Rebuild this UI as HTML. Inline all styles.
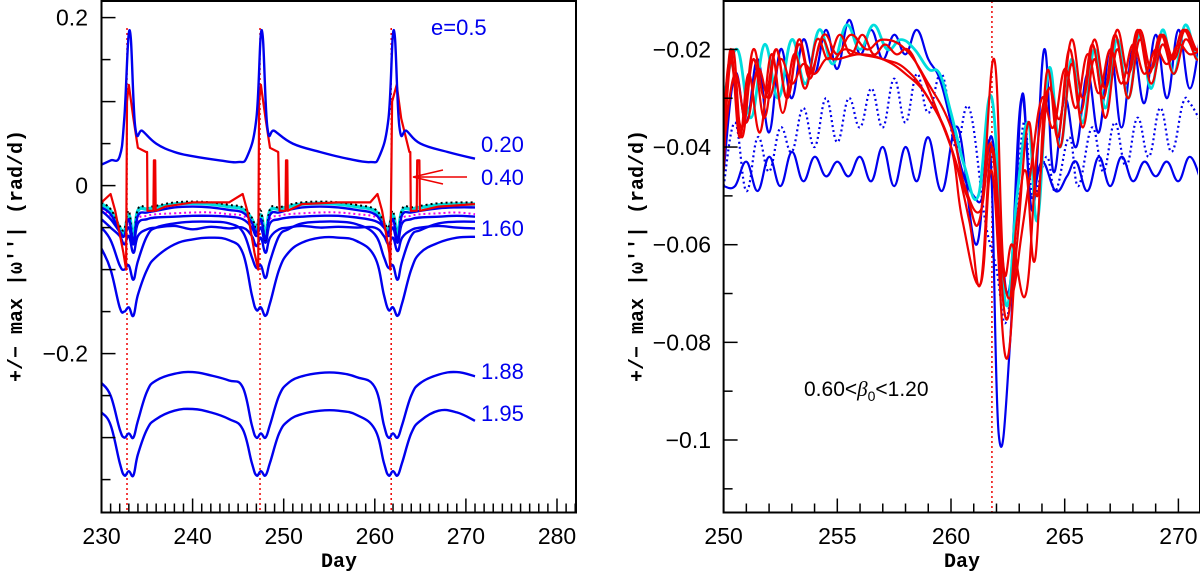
<!DOCTYPE html>
<html><head><meta charset="utf-8"><title>omega chart</title>
<style>
html,body{margin:0;padding:0;background:#fff;}
svg{display:block;font-family:"Liberation Sans",sans-serif;}
.tl{font-size:23px;fill:#000;}
.mono{font-family:"Liberation Mono",monospace;font-weight:bold;font-size:20px;fill:#000;}
.lab{font-size:22px;fill:#0000ee;}
</style></head>
<body>
<svg id="chart" width="1200" height="574" viewBox="0 0 1200 574" xmlns="http://www.w3.org/2000/svg">
<g id="left"></g>
<g id="right"></g>
</svg>
<script>
// ---------- LEFT PANEL DATA ----------
const leftXTicks = [230,240,250,260,270,280];
const leftYTicks = [0.2,0,-0.2];
const leftEvents = [232.8,247.4,261.8];
const D = [230,231,232,232.5,233,233.5,234,235,236,238,240,242,244,245.5,246.5,247,247.5,248,248.5,249.5,250.5,252,254,256,258,260,261,261.5,262,262.5,263,264,265,267,269,271];
const e195 = [-0.27,-0.285,-0.33,-0.345,-0.34,-0.345,-0.32,-0.29,-0.278,-0.268,-0.266,-0.27,-0.278,-0.29,-0.33,-0.345,-0.34,-0.345,-0.33,-0.295,-0.28,-0.272,-0.268,-0.268,-0.273,-0.29,-0.33,-0.345,-0.34,-0.345,-0.33,-0.295,-0.28,-0.268,-0.27,-0.28];
const e188 = [-0.235,-0.25,-0.29,-0.3,-0.295,-0.3,-0.28,-0.245,-0.232,-0.224,-0.222,-0.226,-0.232,-0.24,-0.285,-0.3,-0.295,-0.3,-0.285,-0.25,-0.235,-0.227,-0.223,-0.223,-0.228,-0.24,-0.285,-0.3,-0.295,-0.3,-0.285,-0.25,-0.235,-0.225,-0.222,-0.227];
const e16min = [-0.075,-0.1,-0.145,-0.15,-0.145,-0.155,-0.13,-0.1,-0.085,-0.07,-0.064,-0.062,-0.065,-0.08,-0.13,-0.148,-0.145,-0.155,-0.14,-0.1,-0.08,-0.068,-0.062,-0.062,-0.066,-0.085,-0.13,-0.148,-0.145,-0.155,-0.14,-0.1,-0.08,-0.068,-0.062,-0.061];
const e11min = [-0.05,-0.065,-0.095,-0.1,-0.095,-0.112,-0.09,-0.06,-0.05,-0.045,-0.043,-0.043,-0.045,-0.055,-0.085,-0.098,-0.095,-0.11,-0.09,-0.06,-0.052,-0.045,-0.043,-0.043,-0.046,-0.058,-0.085,-0.098,-0.095,-0.112,-0.09,-0.06,-0.053,-0.045,-0.043,-0.043];
const e160 = [-0.04,-0.05,-0.06,-0.07,-0.06,-0.08,-0.06,-0.052,-0.05,-0.048,-0.052,-0.049,-0.051,-0.05,-0.06,-0.072,-0.062,-0.08,-0.062,-0.052,-0.05,-0.048,-0.05,-0.049,-0.05,-0.05,-0.06,-0.07,-0.062,-0.078,-0.062,-0.053,-0.05,-0.048,-0.05,-0.051];
const eB40 = [-0.03,-0.04,-0.055,-0.06,-0.05,-0.07,-0.045,-0.04,-0.038,-0.037,-0.036,-0.036,-0.037,-0.04,-0.05,-0.06,-0.05,-0.068,-0.045,-0.04,-0.038,-0.037,-0.036,-0.036,-0.038,-0.042,-0.05,-0.06,-0.05,-0.068,-0.045,-0.04,-0.038,-0.037,-0.036,-0.037];
const eMag = [-0.028,-0.036,-0.05,-0.055,-0.045,-0.062,-0.04,-0.036,-0.034,-0.033,-0.032,-0.032,-0.034,-0.036,-0.045,-0.055,-0.045,-0.062,-0.04,-0.036,-0.034,-0.033,-0.032,-0.032,-0.034,-0.037,-0.046,-0.055,-0.045,-0.062,-0.04,-0.036,-0.034,-0.033,-0.032,-0.034];
const eCyan = [-0.022,-0.03,-0.05,-0.055,-0.035,-0.06,-0.03,-0.028,-0.026,-0.022,-0.021,-0.022,-0.025,-0.028,-0.04,-0.052,-0.035,-0.058,-0.03,-0.028,-0.025,-0.022,-0.021,-0.022,-0.025,-0.03,-0.045,-0.052,-0.035,-0.058,-0.03,-0.028,-0.026,-0.023,-0.022,-0.022];
const eBlk = [-0.02,-0.028,-0.048,-0.052,-0.03,-0.065,-0.028,-0.026,-0.024,-0.02,-0.019,-0.02,-0.023,-0.026,-0.038,-0.05,-0.03,-0.065,-0.028,-0.026,-0.023,-0.02,-0.019,-0.02,-0.023,-0.028,-0.043,-0.05,-0.03,-0.065,-0.028,-0.026,-0.024,-0.021,-0.02,-0.02];
const eBlue2 = [-0.026,-0.034,-0.054,-0.06,-0.04,-0.066,-0.036,-0.032,-0.03,-0.026,-0.025,-0.026,-0.029,-0.032,-0.044,-0.056,-0.04,-0.064,-0.035,-0.032,-0.029,-0.026,-0.025,-0.026,-0.029,-0.034,-0.049,-0.056,-0.04,-0.064,-0.035,-0.032,-0.03,-0.027,-0.026,-0.026];
const e020Days = [230,231,232,232.5,233.1,233.7,234.5,236,238,240,243,245,246,247,247.6,248.2,249,251,254,257,259.5,260.5,261.5,262.1,262.7,263.5,265,268,271];
const e020 = [0.025,0.03,0.035,0.08,0.185,0.07,0.065,0.05,0.04,0.035,0.03,0.028,0.035,0.08,0.185,0.07,0.065,0.05,0.04,0.032,0.028,0.035,0.08,0.185,0.07,0.065,0.05,0.04,0.032];
const e040Days = [230,231,231.5,232.4,232.7,232.8,233,233.5,234,234.9,235,235.05,235.7,235.75,235.9,235.95,237,240,244,245.5,246,246.8,247.2,247.3,247.5,248,248.5,249.4,249.5,249.55,250.2,250.25,250.4,250.45,252,256,259.5,260.3,260.8,261.6,261.7,261.9,262.4,262.9,263.8,263.9,263.95,264.6,264.65,264.9,264.95,267,271];
const e040 = [-0.02,-0.01,-0.03,-0.08,-0.1,0.1,0.12,0.08,0.045,0.04,0.04,-0.03,-0.03,0.03,0.03,-0.03,-0.025,-0.02,-0.02,-0.01,-0.03,-0.08,-0.1,0.1,0.12,0.08,0.045,0.04,-0.01,-0.03,-0.03,0.03,0.03,-0.03,-0.022,-0.02,-0.02,-0.01,-0.03,-0.08,-0.1,0.1,0.12,0.08,0.04,0.04,-0.03,-0.03,0.03,0.03,-0.03,-0.025,-0.022];

// ---------- RIGHT PANEL DATA ----------
const rightXTicks = [250,255,260,265,270];
const rightYTicks = [-0.02,-0.04,-0.06,-0.08,-0.1];
const rightYTickLabels = ["\u22120.02","\u22120.04","\u22120.06","\u22120.08","\u22120.1"];
const rightEvent = [261.8];
const bBotDays = [250,250.5,251,251.5,252,252.5,253,253.5,254,254.5,255,255.5,256,256.5,257,257.5,258,258.5,259,259.6,260.3,261.1,261.7,262.1,262.6,263.1,263.5,264,264.6,265.1,265.5,266,266.5,267,267.5,268,268.5,269,269.5,270,270.5,271];
const bBot = [-0.048,-0.048,-0.043,-0.049,-0.042,-0.048,-0.041,-0.047,-0.042,-0.046,-0.043,-0.046,-0.042,-0.047,-0.040,-0.048,-0.040,-0.047,-0.038,-0.049,-0.036,-0.06,-0.04,-0.099,-0.08,-0.03,-0.05,-0.043,-0.049,-0.046,-0.043,-0.049,-0.042,-0.048,-0.042,-0.047,-0.043,-0.046,-0.043,-0.047,-0.042,-0.047];
const bDotDays = [250,250.5,251,251.5,252,252.5,253,253.5,254,254.5,255,255.5,256,256.5,257,257.5,258,258.5,259,259.6,260.2,260.8,261.5,262,262.4,262.8,263.2,263.6,264.2,264.6,265.2,265.6,266.2,266.7,267.2,267.7,268.2,268.7,269.2,269.7,270.2,270.5,271];
const bDot = [-0.048,-0.035,-0.049,-0.038,-0.045,-0.036,-0.041,-0.032,-0.040,-0.030,-0.039,-0.030,-0.036,-0.028,-0.036,-0.026,-0.035,-0.025,-0.033,-0.025,-0.04,-0.032,-0.055,-0.065,-0.076,-0.06,-0.035,-0.05,-0.042,-0.049,-0.038,-0.048,-0.036,-0.045,-0.035,-0.044,-0.034,-0.042,-0.032,-0.041,-0.031,-0.031,-0.035];
const bTopDays = [250,250.5,251,251.5,252,252.5,253,253.5,254,254.5,255,255.5,256,256.5,257,257.5,258,258.5,259,259.5,260,260.5,261,261.4,261.8,262.2,262.6,263.1,263.6,264.1,264.5,265,265.5,266,266.5,267,267.5,268,268.5,269,269.5,270,270.5,271];
const bTop = [-0.045,-0.025,-0.035,-0.022,-0.037,-0.02,-0.030,-0.018,-0.025,-0.016,-0.024,-0.014,-0.021,-0.016,-0.022,-0.017,-0.021,-0.016,-0.022,-0.026,-0.035,-0.045,-0.05,-0.05,-0.038,-0.06,-0.068,-0.03,-0.053,-0.02,-0.045,-0.03,-0.04,-0.025,-0.037,-0.02,-0.036,-0.02,-0.031,-0.017,-0.03,-0.016,-0.028,-0.016];
const cyDays = [250,250.6,251.2,251.8,252.4,253,253.6,254.2,254.8,255.4,256,256.6,257.2,257.8,258.4,259,259.5,260,260.6,261.2,261.8,262.4,262.9,263.4,263.8,264.3,264.8,265.3,265.8,266.3,266.8,267.3,267.8,268.3,268.8,269.3,269.8,270.3,270.8,271];
const cy = [-0.03,-0.02,-0.034,-0.019,-0.03,-0.018,-0.027,-0.016,-0.023,-0.015,-0.02,-0.015,-0.02,-0.018,-0.02,-0.024,-0.025,-0.033,-0.044,-0.05,-0.03,-0.072,-0.05,-0.035,-0.055,-0.024,-0.04,-0.022,-0.035,-0.02,-0.032,-0.018,-0.03,-0.017,-0.028,-0.016,-0.025,-0.015,-0.022,-0.018];
const rADays = [250,250.4,250.8,251.3,251.8,252.3,252.8,253.3,253.8,254.3,254.8,255.3,256,257,258,259,260,260.5,261.3,261.8,262.4,262.9,263.4,263.8,264.3,264.8,265.3,265.8,266.3,266.8,267.3,267.8,268.3,268.8,269.3,269.8,270.3,270.8,271];
const rA = [-0.04,-0.02,-0.038,-0.022,-0.034,-0.02,-0.03,-0.019,-0.026,-0.018,-0.022,-0.02,-0.021,-0.022,-0.024,-0.03,-0.04,-0.055,-0.068,-0.045,-0.083,-0.06,-0.035,-0.05,-0.028,-0.04,-0.023,-0.036,-0.022,-0.034,-0.02,-0.03,-0.018,-0.027,-0.019,-0.025,-0.018,-0.022,-0.021];
const rBDays = [250,250.3,250.8,251.3,251.8,252.3,252.8,253.3,253.8,254.4,255,255.6,256.3,257,258,259,260,260.6,261.3,261.8,262.4,262.9,263.3,263.7,264.2,264.7,265.2,265.7,266.2,266.7,267.2,267.7,268.2,268.7,269.2,269.7,270.2,270.7,271];
const rB = [-0.035,-0.022,-0.036,-0.02,-0.03,-0.02,-0.03,-0.018,-0.025,-0.017,-0.021,-0.017,-0.02,-0.018,-0.02,-0.027,-0.036,-0.048,-0.053,-0.04,-0.075,-0.055,-0.045,-0.063,-0.025,-0.038,-0.02,-0.033,-0.019,-0.03,-0.017,-0.027,-0.016,-0.025,-0.017,-0.022,-0.016,-0.02,-0.019];
const rCDays = [250,250.3,250.7,251.1,251.6,252.1,252.6,253.1,253.6,254.1,254.6,255.1,255.6,256.1,256.6,257.1,257.6,258.1,258.6,259,260,260.7,261.3,261.9,262.3,262.7,263.3,263.8,264.3,264.8,265.3,265.8,266.3,266.8,267.3,267.8,268.3,268.8,269.3,269.8,270.3,270.8,271];
const rC = [-0.045,-0.02,-0.038,-0.025,-0.037,-0.021,-0.033,-0.021,-0.028,-0.018,-0.022,-0.017,-0.021,-0.017,-0.021,-0.019,-0.021,-0.02,-0.024,-0.028,-0.04,-0.05,-0.054,-0.022,-0.064,-0.06,-0.07,-0.04,-0.028,-0.034,-0.018,-0.03,-0.018,-0.028,-0.016,-0.025,-0.016,-0.024,-0.017,-0.022,-0.016,-0.02,-0.018];
const rDDays = [250,250.5,251,251.5,252,252.5,253,253.5,254,254.5,255,256,257,258,259,260,260.8,261.3,261.8,262.3,262.7,263.1,263.5,264,264.5,265,265.5,266,266.5,267,267.5,268,268.5,269,269.5,270,270.5,271];
const rD = [-0.04,-0.025,-0.035,-0.024,-0.03,-0.022,-0.027,-0.023,-0.025,-0.022,-0.022,-0.021,-0.022,-0.025,-0.03,-0.04,-0.055,-0.068,-0.04,-0.066,-0.07,-0.058,-0.045,-0.03,-0.036,-0.024,-0.032,-0.021,-0.029,-0.02,-0.027,-0.019,-0.025,-0.02,-0.023,-0.019,-0.021,-0.02];

// ---------- helpers ----------
const NS = "http://www.w3.org/2000/svg";
function mk(tag, attrs, parent){ const e=document.createElementNS(NS,tag); for(const k in attrs) e.setAttribute(k,attrs[k]); parent.appendChild(e); return e; }
function lin(d0,d1,p0,p1){ return v => p0+(v-d0)*(p1-p0)/(d1-d0); }

const L = {x0:101.5, x1:576, y0:1, y1:512.5};
const lx = lin(230,280,101.5,557);
const ly = lin(0,0.2,185.6,17.6);
const R = {x0:723.6, x1:1198, y0:1, y1:512.5};
const rx = lin(250,255,723.6,837.3);
const ry = lin(-0.1,-0.02,440,49.4);

function smoothPath(P, sharp){
  if(sharp) return "M"+P.map(p=>p[0].toFixed(1)+","+p[1].toFixed(1)).join(" L");
  let d = "M"+P[0][0].toFixed(1)+","+P[0][1].toFixed(1);
  for(let i=0;i<P.length-1;i++){
    const p0=P[Math.max(0,i-1)], p1=P[i], p2=P[i+1], p3=P[Math.min(P.length-1,i+2)];
    const t=0.2;
    const c1=[p1[0]+(p2[0]-p0[0])*t, p1[1]+(p2[1]-p0[1])*t];
    const c2=[p2[0]-(p3[0]-p1[0])*t, p2[1]-(p3[1]-p1[1])*t];
    d+=" C"+c1[0].toFixed(1)+","+c1[1].toFixed(1)+" "+c2[0].toFixed(1)+","+c2[1].toFixed(1)+" "+p2[0].toFixed(1)+","+p2[1].toFixed(1);
  }
  return d;
}
function drawLine(g, xs, ys, sx, sy, color, dash, w, name, sharp){
  const P = xs.map((x,i)=>[sx(x),sy(ys[i])]);
  const p = mk("path",{d:smoothPath(P,sharp),fill:"none",stroke:color,"stroke-width":w,"stroke-linejoin":"round"},g);
  if(dash) p.setAttribute("stroke-dasharray",dash);
  
  
}

// ---------- LEFT ----------
const gl = document.getElementById("left");
const clipL = mk("clipPath",{id:"cl"},gl); mk("rect",{x:L.x0,y:L.y0,width:L.x1-L.x0,height:L.y1-L.y0},clipL);
const plotL = mk("g",{"clip-path":"url(#cl)"},gl);


leftEvents.forEach(d=>{
  const l = mk("line",{x1:lx(d),x2:lx(d),y1:L.y0+27,y2:L.y1,stroke:"#e00","stroke-width":1.5,"stroke-dasharray":"2,3"},plotL);
  
  
});
drawLine(plotL,D,e195,lx,ly,"#0000ee",null,2.4,"series-1-95");
drawLine(plotL,D,e188,lx,ly,"#0000ee",null,2.4,"series-1-88");
drawLine(plotL,D,e16min,lx,ly,"#0000ee",null,2.4,"series-deep-dip");
drawLine(plotL,D,e11min,lx,ly,"#0000ee",null,2.4,"series-mid-dip");
drawLine(plotL,D,e160,lx,ly,"#0000ee",null,2.4,"series-1-60");
drawLine(plotL,D,eB40,lx,ly,"#0000ee",null,2.4,"series-blue-040");
drawLine(plotL,D,eMag,lx,ly,"#ee00ee",'2,3',2,"series-magenta-dotted");
drawLine(plotL,D,eCyan,lx,ly,"#00dddd",null,3.5,"series-cyan");
drawLine(plotL,D,eBlk,lx,ly,"#000",'2,3',2,"series-black-dotted");
drawLine(plotL,D,eBlue2,lx,ly,"#0000ee",null,2.4,"series-blue-upper");
drawLine(plotL,e040Days,e040,lx,ly,"#ee0000",null,2.2,"series-0-40",true);
drawLine(plotL,e020Days,e020,lx,ly,"#0000ee",null,2.4,"series-0-20");

// frame & ticks
const fl = mk("rect",{x:L.x0,y:L.y0,width:L.x1-L.x0,height:L.y1-L.y0,fill:"none",stroke:"#000","stroke-width":2},gl);


for(let d=230; d<=282; d++){
  const major = d%10===0;
  mk("line",{x1:lx(d),x2:lx(d),y1:L.y1,y2:L.y1-(major?14:9),stroke:"#000","stroke-width":1.5},gl);
}
for(let v=-0.35; v<=0.21; v+=0.05){
  mk("line",{x1:L.x0,x2:L.x0+(Math.abs(v*10-Math.round(v*10))<1e-6?14:9),y1:ly(v),y2:ly(v),stroke:"#000","stroke-width":1.5},gl);
}
leftXTicks.forEach(v=>{
  const t = mk("text",{x:lx(v),y:544,"text-anchor":"middle",class:"tl"},gl); t.textContent=v;
  
  
});
leftYTicks.forEach(v=>{
  const t = mk("text",{x:88,y:ly(v)+8,"text-anchor":"end",class:"tl"},gl); t.textContent=(v<0?"\u2212":"")+Math.abs(v);
  
  
});
</script>
<script>
(function(){
  const gl = document.getElementById("left");
  const labs = [["e=0.5",431,35],["0.20",481,152],["0.40",481,185],["1.60",481,236],["1.88",481,379],["1.95",481,421]];
  labs.forEach(a=>{
    const t = mk("text",{x:a[1],y:a[2],class:"lab"},gl); t.textContent=a[0];
    
    
  });
  const ar = mk("path",{d:"M467,177 L413,177 M443,170 L413,177 L443,184",fill:"none",stroke:"#e00","stroke-width":1.5},gl);
  
  
  const xt = mk("text",{x:339,y:567,"text-anchor":"middle",class:"mono"},gl); xt.textContent="Day";
  
  
  const yt = mk("text",{x:0,y:0,"text-anchor":"middle",class:"mono",transform:"translate(22,256) rotate(-90)"},gl); yt.textContent="+/\u2212 max |\u03c9''|  (rad/d)";
  
  

  // ---------- RIGHT ----------
  const gr = document.getElementById("right");
  const clipR = mk("clipPath",{id:"cr"},gr); mk("rect",{x:R.x0,y:R.y0,width:R.x1-R.x0,height:R.y1-R.y0},clipR);
  const plotR = mk("g",{"clip-path":"url(#cr)"},gr);
  
  
  rightEvent.forEach(d=>{
    const l = mk("line",{x1:rx(d),x2:rx(d),y1:R.y0,y2:R.y1,stroke:"#e00","stroke-width":1.5,"stroke-dasharray":"2,3"},plotR);
    
    
  });
  drawLine(plotR,bBotDays,bBot,rx,ry,"#0000ee",null,2.2,"series-blue-bottom");
  drawLine(plotR,bDotDays,bDot,rx,ry,"#0000ee",'2,3',2.2,"series-blue-dotted");
  drawLine(plotR,bTopDays,bTop,rx,ry,"#0000ee",null,2.2,"series-blue-top");
  drawLine(plotR,cyDays,cy,rx,ry,"#00dddd",null,2.8,"series-cyan");
  drawLine(plotR,rDDays,rD,rx,ry,"#ee0000",null,2.2,"series-red-d");
  drawLine(plotR,rADays,rA,rx,ry,"#ee0000",null,2.2,"series-red-a");
  drawLine(plotR,rBDays,rB,rx,ry,"#ee0000",null,2.2,"series-red-b");
  drawLine(plotR,rCDays,rC,rx,ry,"#ee0000",null,2.2,"series-red-c");
  const fr = mk("rect",{x:R.x0,y:R.y0,width:R.x1-R.x0+2,height:R.y1-R.y0,fill:"none",stroke:"#000","stroke-width":2},gr);
  
  
  for(let d=250; d<=271; d++){
    mk("line",{x1:rx(d),x2:rx(d),y1:R.y1,y2:R.y1-(d%5===0?14:9),stroke:"#000","stroke-width":1.5},gr);
  }
  for(let k=-11; k<=-1; k++){
    const v=k/100;
    mk("line",{x1:R.x0,x2:R.x0+(k%2===0?14:9),y1:ry(v),y2:ry(v),stroke:"#000","stroke-width":1.5},gr);
  }
  rightXTicks.forEach(v=>{
    const t = mk("text",{x:rx(v),y:544,"text-anchor":"middle",class:"tl"},gr); t.textContent=v;
    
    
  });
  rightYTicks.forEach((v,i)=>{
    const t = mk("text",{x:711,y:ry(v)+8,"text-anchor":"end",class:"tl"},gr); t.textContent=rightYTickLabels[i];
    
    
  });
  const xt2 = mk("text",{x:962,y:567,"text-anchor":"middle",class:"mono"},gr); xt2.textContent="Day";
  
  
  const yt2 = mk("text",{x:0,y:0,"text-anchor":"middle",class:"mono",transform:"translate(643,256) rotate(-90)"},gr); yt2.textContent="+/\u2212 max |\u03c9''|  (rad/d)";
  
  
  const ann = mk("text",{x:804,y:396,class:"tl",style:"font-size:21px"},gr);
  ann.innerHTML = '0.60&lt;<tspan font-style="italic" font-family="Liberation Serif">β</tspan><tspan font-size="14" dy="5">0</tspan><tspan dy="-5">&lt;1.20</tspan>';
  
  
})();
</script>
</body></html>
